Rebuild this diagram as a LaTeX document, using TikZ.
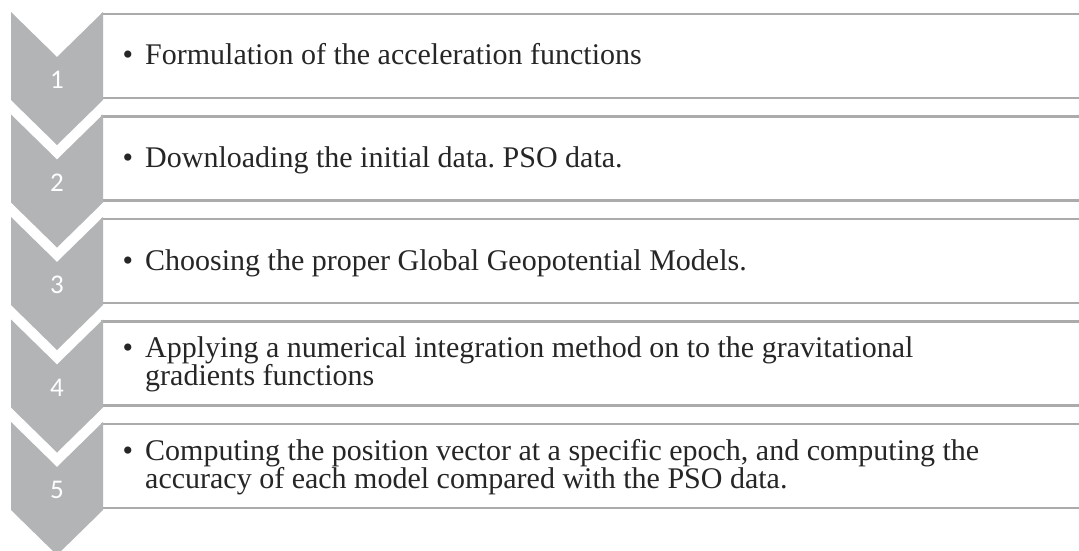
\documentclass[tikz,border=0pt]{standalone}
\usepackage{fontspec}
\setmainfont{Liberation Serif}
\newfontfamily\numfont{Carlito}
\definecolor{chevgray}{HTML}{B3B4B6}
\definecolor{edgegray}{HTML}{ABABAB}
\frenchspacing
\begin{document}
\begin{tikzpicture}[x=1pt,y=-1pt,
  chevron/.style={fill=chevgray,draw=none},
  stepbox/.style={draw=edgegray,line width=2.8pt,fill=white},
  stepnum/.style={font=\numfont\fontsize{27}{27}\selectfont,text=white,inner sep=0pt},
  steptext/.style={font=\fontsize{30}{28}\selectfont,text=black!85,inner sep=0pt,
    anchor=base west,align=left}]
\useasboundingbox (0,0) rectangle (1079,551);
\clip (0,0) rectangle (1079,551);
% boxes and chevrons, one pair per step
\foreach \i in {0,...,4}{
  \begin{scope}[yshift=-102.5*\i]
    \draw[stepbox] (102,14) rectangle (1090,98);
    \fill[chevron] (11,12) -- (57,57) -- (103,12) -- (103,100) -- (57,145) -- (11,100) -- cycle;
  \end{scope}
}
\foreach \i in {1,...,5}{
  \node[stepnum] (n\i) at (57,{80+102.5*(\i-1)}) {\i};
}
\newcommand{\bul}{\llap{\textbullet\hspace{12pt}}}
% base anchor sits on the last line of each text
\node[steptext] (t1) at (145,65) {\bul Formulation of the acceleration functions};
\node[steptext] (t2) at (145,167.5) {\bul Downloading the initial data. PSO data.};
\node[steptext] (t3) at (145,270) {\bul Choosing the proper Global Geopotential Models.};
\node[steptext] (t4) at (145,385) {\bul Applying a numerical integration method on to the gravitational\\gradients functions};
\node[steptext] (t5) at (145,488) {\bul Computing the position vector at a specific epoch, and computing the\\accuracy of each model compared with the PSO data.};
\end{tikzpicture}
\end{document}
